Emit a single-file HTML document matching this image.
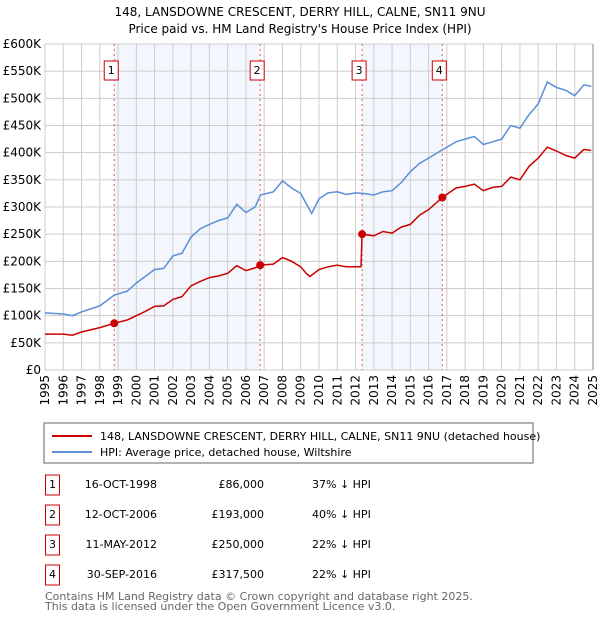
<!DOCTYPE html>
<html><head><meta charset="utf-8"><style>
body{margin:0;width:600px;height:620px;background:#fff;font-family:"DejaVu Sans","Liberation Sans",sans-serif;color:#000;overflow:hidden}
svg{position:absolute;left:0;top:0}
</style></head><body>
<svg id="c" width="600" height="620" xmlns="http://www.w3.org/2000/svg" font-family="DejaVu Sans, Liberation Sans, sans-serif">
<text x="300" y="16" text-anchor="middle" font-size="12">148, LANSDOWNE CRESCENT, DERRY HILL, CALNE, SN11 9NU</text>
<text x="300" y="33" text-anchor="middle" font-size="12">Price paid vs. HM Land Registry's House Price Index (HPI)</text>
<g id="plot"></g>
<rect x="44" y="423" width="489" height="40" fill="#fff" stroke="#666" stroke-width="1"/>
<line x1="52" y1="436" x2="92" y2="436" stroke="#cc0000" stroke-width="2"/>
<text x="100" y="440" font-size="11">148, LANSDOWNE CRESCENT, DERRY HILL, CALNE, SN11 9NU (detached house)</text>
<line x1="52" y1="452" x2="92" y2="452" stroke="#5b8fd6" stroke-width="2"/>
<text x="100" y="456" font-size="11">HPI: Average price, detached house, Wiltshire</text>
<g id="tbl"></g>
<text x="45" y="600" font-size="11" fill="#666">Contains HM Land Registry data © Crown copyright and database right 2025.</text>
<text x="45" y="610" font-size="11" fill="#666">This data is licensed under the Open Government Licence v3.0.</text>
</svg>
<script>
const yTicks=[0,50,100,150,200,250,300,350,400,450,500,550,600];
const years=[1995,1996,1997,1998,1999,2000,2001,2002,2003,2004,2005,2006,2007,2008,2009,2010,2011,2012,2013,2014,2015,2016,2017,2018,2019,2020,2021,2022,2023,2024,2025];
const hpiT=[1995,1996,1996.5,1997,1998,1998.8,1999.5,2000,2001,2001.5,2002,2002.5,2003,2003.5,2004,2004.5,2005,2005.5,2006,2006.5,2006.8,2007.5,2008,2008.5,2009,2009.4,2009.6,2010,2010.5,2011,2011.5,2012,2012.4,2013,2013.5,2014,2014.5,2015,2015.5,2016,2016.75,2017.5,2018,2018.5,2019,2019.5,2020,2020.5,2021,2021.5,2022,2022.5,2023,2023.5,2024,2024.5,2024.9];
const hpiV=[105,103,100,107,118,138,145,160,185,187,210,215,245,260,268,275,280,305,290,300,322,328,348,335,325,300,288,315,326,328,323,326,325,322,328,330,345,365,380,390,405,420,425,430,415,420,425,450,445,470,490,530,520,515,505,525,522];
const priceT=[1995,1996,1996.5,1997,1998,1998.79,1999.5,2000,2000.5,2001,2001.5,2002,2002.5,2003,2003.5,2004,2004.5,2005,2005.5,2006,2006.5,2006.78,2007.5,2008,2008.5,2009,2009.3,2009.5,2010,2010.5,2011,2011.5,2012.3,2012.36,2013,2013.5,2014,2014.5,2015,2015.5,2016,2016.75,2017.5,2018,2018.5,2019,2019.5,2020,2020.5,2021,2021.5,2022,2022.5,2023,2023.5,2024,2024.5,2024.9];
const priceV=[66,66,64,70,78,86,92,100,108,117,118,130,135,155,163,170,173,178,192,183,188,193,195,207,200,190,178,172,185,190,193,190,190,250,247,255,252,263,268,285,295,317.5,335,338,342,330,336,338,355,350,375,390,410,403,395,390,406,404];
const saleT=[1998.79,2006.78,2012.36,2016.75];
const saleV=[86,193,250,317.5];
const saleLabels=["1","2","3","4"];
const saleDates=["16-OCT-1998","12-OCT-2006","11-MAY-2012","30-SEP-2016"];
const salePrices=["£86,000","£193,000","£250,000","£317,500"];
const saleHpi=["37% ↓ HPI","40% ↓ HPI","22% ↓ HPI","22% ↓ HPI"];
const NS="http://www.w3.org/2000/svg";
const X0=45,X1=593,Y0=370,Y1=44;
const xs=t=>X0+(t-1995)/30*(X1-X0);
const ys=v=>Y0-v/600*(Y0-Y1);
const plot=document.getElementById('plot');
function mk(tag,attrs,parent){const e=document.createElementNS(NS,tag);for(const k in attrs)e.setAttribute(k,attrs[k]);(parent||plot).appendChild(e);return e;}
for(let i=0;i<2;i++){const r=mk('rect',{x:xs(saleT[i*2]),y:Y1,width:xs(saleT[i*2+1])-xs(saleT[i*2]),height:Y0-Y1,fill:'#eef3fc',opacity:0.7});

}
yTicks.forEach(v=>{const l=mk('line',{x1:X0,x2:X1,y1:ys(v),y2:ys(v),stroke:'#cccccc'});


const t=mk('text',{x:X0-4,y:ys(v)+4,'text-anchor':'end','font-size':12});t.textContent=v===0?'£0':'£'+v+'K';

});
years.forEach(y=>{const l=mk('line',{x1:xs(y),x2:xs(y),y1:Y1,y2:Y0,stroke:'#cccccc'});


const tx=xs(y)+4;
const t=mk('text',{x:tx,y:375,'text-anchor':'end','font-size':12,transform:'rotate(-90 '+tx+' 375)'});t.textContent=y;

});
saleT.forEach((t,i)=>{const l=mk('line',{x1:xs(t),x2:xs(t),y1:Y1,y2:Y0,stroke:'#ee5555','stroke-dasharray':'2,3'});


const b=mk('rect',{x:xs(t)-10,y:61,width:14,height:19,fill:'#fff',stroke:'#cc0000'});


const tx=mk('text',{x:xs(t)-3,y:74,'text-anchor':'middle','font-size':11});tx.textContent=saleLabels[i];

});
const hp=mk('path',{d:hpiT.map((t,i)=>(i?'L':'M')+xs(t).toFixed(1)+','+ys(hpiV[i]).toFixed(1)).join(''),fill:'none',stroke:'#5b8fd6','stroke-width':1.5});


const pp=mk('path',{d:priceT.map((t,i)=>(i?'L':'M')+xs(t).toFixed(1)+','+ys(priceV[i]).toFixed(1)).join(''),fill:'none',stroke:'#cc0000','stroke-width':1.5});


saleT.forEach((t,i)=>{const c=mk('circle',{cx:xs(t),cy:ys(saleV[i]),r:4,fill:'#cc0000'});

});
const ax=mk('line',{x1:X1,x2:X1,y1:Y1,y2:Y0,stroke:'#888'});


const tbl=document.getElementById('tbl');
saleT.forEach((t,i)=>{const y=485+i*30;
const b=mk('rect',{x:45.5,y:y-10,width:14,height:20,fill:'#fff',stroke:'#cc0000'},tbl);


const n=mk('text',{x:52.5,y:y+3,'text-anchor':'middle','font-size':11},tbl);n.textContent=saleLabels[i];


const d=mk('text',{x:157,y:y+3,'text-anchor':'end','font-size':11},tbl);d.textContent=saleDates[i];


const p=mk('text',{x:264,y:y+3,'text-anchor':'end','font-size':11},tbl);p.textContent=salePrices[i];


const h=mk('text',{x:312,y:y+3,'font-size':11},tbl);h.textContent=saleHpi[i];

});
</script>
</body></html>
